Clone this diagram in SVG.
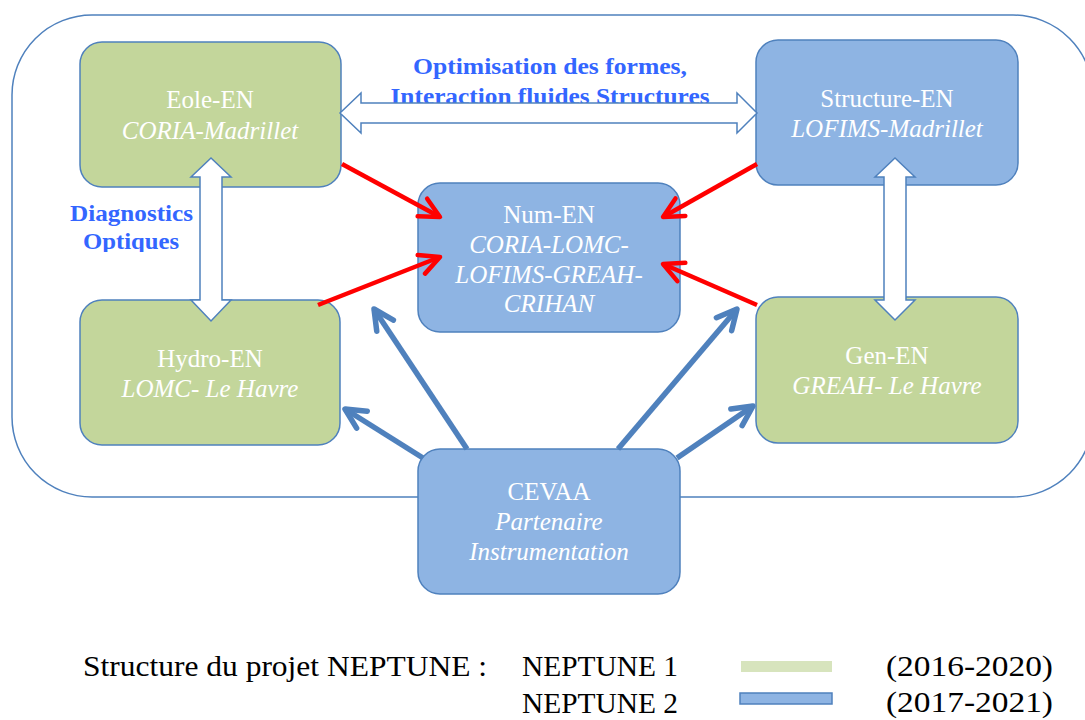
<svg xmlns="http://www.w3.org/2000/svg" width="1085" height="720" viewBox="0 0 1085 720">
<style>
.box{stroke:#4F81BD;stroke-width:1.5}
.g{fill:#C3D69B}
.b{fill:#8EB4E3}
.t{font-family:'Liberation Serif','Times New Roman',Times,'DejaVu Serif',serif;font-size:25px;fill:#fff;text-anchor:middle}
.i{font-style:italic}
.lbl{font-family:'Liberation Serif','Times New Roman',Times,'DejaVu Serif',serif;font-weight:bold;font-size:23px;fill:#3366FF;text-anchor:middle}
.leg{font-family:'Liberation Serif','Times New Roman',Times,'DejaVu Serif',serif;font-size:30px;fill:#000}
.dbl{fill:#fff;stroke:#4F81BD;stroke-width:1.5;stroke-linejoin:miter}
.red{stroke:#FF0000;stroke-width:4.5;fill:none}
.blue{stroke:#4F81BD;stroke-width:5.5;fill:none}
</style>
<defs>
<marker id="ar" markerUnits="userSpaceOnUse" markerWidth="40" markerHeight="40" refX="24" refY="14" orient="auto" overflow="visible">
<path d="M4,4 L24,14 L4,24" fill="none" stroke="#FF0000" stroke-width="4.5" stroke-linecap="round" stroke-linejoin="round"/>
</marker>
<marker id="ab" markerUnits="userSpaceOnUse" markerWidth="40" markerHeight="40" refX="24" refY="14" orient="auto" overflow="visible">
<path d="M4,4 L24,14 L4,24" fill="none" stroke="#4F81BD" stroke-width="5.5" stroke-linecap="round" stroke-linejoin="round"/>
</marker>
<clipPath id="clipOpt"><rect x="40" y="190" width="200" height="62"/></clipPath>
</defs>

<rect id="container" x="12" y="15" width="1081" height="482" rx="80" ry="80" fill="none" stroke="#4F81BD" stroke-width="1.5"/>

<g id="eole">
<rect class="box g" x="80" y="42" width="261" height="145" rx="22"/>
<text class="t" x="210" y="108">Eole-EN</text>
<text class="t i" x="210" y="139">CORIA-Madrillet</text>
</g>
<g id="structure">
<rect class="box b" x="756" y="40" width="262" height="145" rx="22"/>
<text class="t" x="887" y="107">Structure-EN</text>
<text class="t i" x="887" y="137">LOFIMS-Madrillet</text>
</g>
<g id="num">
<rect class="box b" x="418" y="183" width="262" height="149" rx="22"/>
<text class="t" x="549" y="223">Num-EN</text>
<text class="t i" x="549" y="253">CORIA-LOMC-</text>
<text class="t i" x="549" y="283">LOFIMS-GREAH-</text>
<text class="t i" x="549" y="312">CRIHAN</text>
</g>
<g id="hydro">
<rect class="box g" x="80" y="300" width="260" height="145" rx="22"/>
<text class="t" x="210" y="367">Hydro-EN</text>
<text class="t i" x="210" y="397">LOMC- Le Havre</text>
</g>
<g id="gen">
<rect class="box g" x="756" y="297" width="262" height="146" rx="22"/>
<text class="t" x="887" y="364">Gen-EN</text>
<text class="t i" x="887" y="394">GREAH- Le Havre</text>
</g>
<g id="cevaa">
<rect class="box b" x="418" y="449" width="262" height="145" rx="22"/>
<text class="t" x="549" y="500">CEVAA</text>
<text class="t i" x="549" y="530">Partenaire</text>
<text class="t i" x="549" y="560">Instrumentation</text>
</g>

<g id="connectors">
<text class="lbl" x="550" y="74" textLength="274" lengthAdjust="spacingAndGlyphs">Optimisation des formes,</text>
<text class="lbl" x="550" y="104" textLength="319" lengthAdjust="spacingAndGlyphs">Interaction fluides Structures</text>
<polygon class="dbl" points="340,113 361,93 361,103 737,103 737,93 757,113 737,133 737,123 361,123 361,133"/>
<g clip-path="url(#clipOpt)">
<text class="lbl" x="131.5" y="221" textLength="123" lengthAdjust="spacingAndGlyphs">Diagnostics</text>
<text class="lbl" x="131" y="249" textLength="96" lengthAdjust="spacingAndGlyphs">Optiques</text>
</g>
<polygon class="dbl" points="211,158 231,177 222,177 222,300 231,300 211,321 191,300 200,300 200,177 191,177"/>
<polygon class="dbl" points="895,158 915,177 906,177 906,300 915,300 895,320 875,300 884,300 884,177 875,177"/>
<line class="red" x1="342" y1="164" x2="440" y2="217" marker-end="url(#ar)"/>
<line class="red" x1="318" y1="305" x2="440" y2="257" marker-end="url(#ar)"/>
<line class="red" x1="757" y1="164" x2="663" y2="217" marker-end="url(#ar)"/>
<line class="red" x1="757" y1="305" x2="663" y2="264" marker-end="url(#ar)"/>
<line class="blue" x1="467" y1="449" x2="374" y2="309" marker-end="url(#ab)"/>
<line class="blue" x1="423" y1="458" x2="345" y2="409" marker-end="url(#ab)"/>
<line class="blue" x1="618" y1="449" x2="737" y2="309" marker-end="url(#ab)"/>
<line class="blue" x1="677" y1="458" x2="753" y2="406" marker-end="url(#ab)"/>
</g>

<g id="legend">
<text class="leg" x="83" y="676" textLength="404" lengthAdjust="spacingAndGlyphs">Structure du projet NEPTUNE :</text>
<text class="leg" x="522" y="676" textLength="156" lengthAdjust="spacingAndGlyphs">NEPTUNE 1</text>
<text class="leg" x="522" y="713" textLength="156" lengthAdjust="spacingAndGlyphs">NEPTUNE 2</text>
<rect x="741" y="661" width="91" height="11" fill="#D7E4BD"/>
<rect x="740" y="693" width="92" height="11" fill="#8EB4E3" stroke="#4F81BD" stroke-width="1.5"/>
<text class="leg" x="886" y="676" textLength="167" lengthAdjust="spacingAndGlyphs">(2016-2020)</text>
<text class="leg" x="886" y="712" textLength="167" lengthAdjust="spacingAndGlyphs">(2017-2021)</text>
</g>
</svg>
